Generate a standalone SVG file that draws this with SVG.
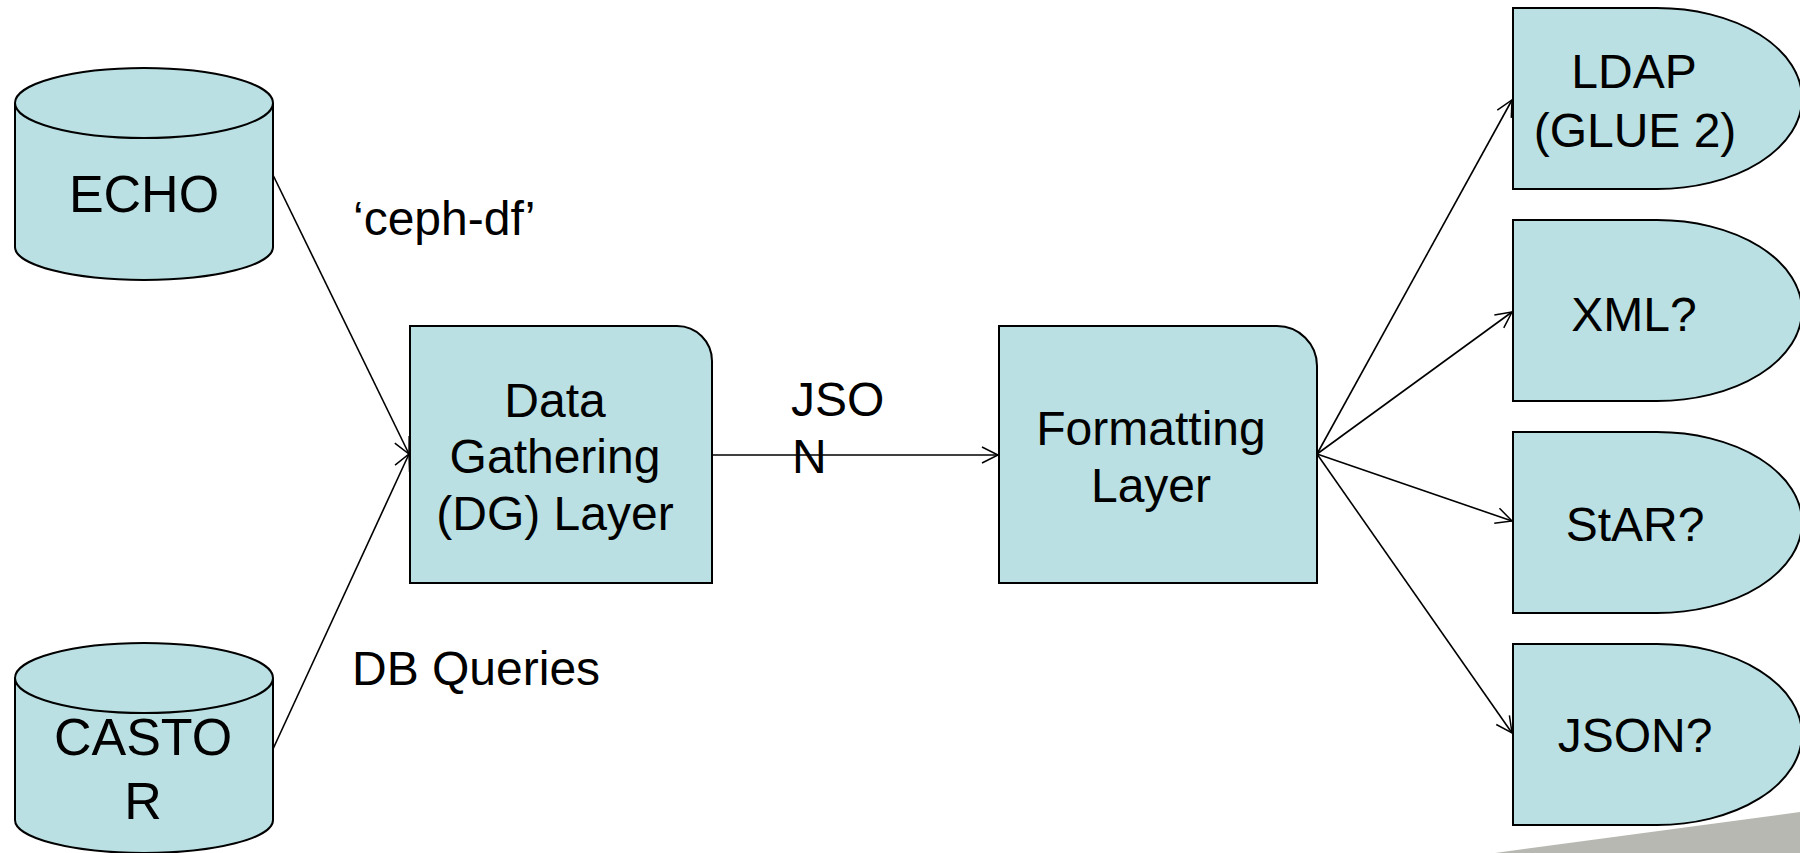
<svg xmlns="http://www.w3.org/2000/svg" width="1800" height="853" viewBox="0 0 1800 853">
<defs>
<marker id="arr" markerUnits="userSpaceOnUse" markerWidth="20" markerHeight="20" viewBox="0 0 20 20" refX="17" refY="10" orient="auto">
<path d="M1,2 L17,10 L1,18" fill="none" stroke="#000" stroke-width="1.5"/>
</marker>
</defs>
<style>
.shape{fill:#bae0e3;stroke:#000;stroke-width:2}
.t{font-family:"Liberation Sans",Arial,sans-serif;font-size:48px;fill:#000}
.c{text-anchor:middle}
.big{font-size:52px}
.ln{fill:none;stroke:#000;stroke-width:1.6}
</style>
<rect width="1800" height="853" fill="#fff"/>
<polygon points="1495,853 1800,812 1800,853" fill="#b8b8b2"/>
<g id="echo">
<path class="shape" d="M15,103 A129,35 0 0 1 273,103 V247 A129,33 0 0 1 15,247 Z"/>
<path class="shape" d="M15,103 A129,35 0 0 0 273,103" fill="none"/>
<text class="t c big" x="144" y="212">ECHO</text>
</g>
<g id="castor">
<path class="shape" d="M15,678 A129,35 0 0 1 273,678 V820 A129,33 0 0 1 15,820 Z"/>
<path class="shape" d="M15,678 A129,35 0 0 0 273,678" fill="none"/>
<text class="t c big" x="143" y="755">CASTO</text>
<text class="t c big" x="143" y="819">R</text>
</g>
<g id="dg">
<path class="shape" d="M410,326 H677 A35,35 0 0 1 712,361 V583 H410 Z"/>
<text class="t c" x="555" y="417">Data</text>
<text class="t c" x="555" y="473">Gathering</text>
<text class="t c" x="555" y="530">(DG) Layer</text>
</g>
<g id="fmt">
<path class="shape" d="M999,326 H1277 A40,40 0 0 1 1317,366 V583 H999 Z"/>
<text class="t c" x="1151" y="445">Formatting</text>
<text class="t c" x="1151" y="502">Layer</text>
</g>
<g id="ldap">
<path class="shape" d="M1513,8 H1657 A145,90.5 0 0 1 1657,189 H1513 Z"/>
<text class="t c" x="1634" y="88">LDAP</text>
<text class="t c" x="1635" y="147">(GLUE 2)</text>
</g>
<g id="xml">
<path class="shape" d="M1513,220 H1657 A145,90.5 0 0 1 1657,401 H1513 Z"/>
<text class="t c" x="1634" y="331">XML?</text>
</g>
<g id="star">
<path class="shape" d="M1513,432 H1657 A145,90.5 0 0 1 1657,613 H1513 Z"/>
<text class="t c" x="1635" y="541">StAR?</text>
</g>
<g id="jsonq">
<path class="shape" d="M1513,644 H1657 A145,90.5 0 0 1 1657,825 H1513 Z"/>
<text class="t c" x="1635" y="752">JSON?</text>
</g>
<g id="labels">
<text class="t" x="353" y="235">‘ceph-df’</text>
<text class="t" x="352" y="685">DB Queries</text>
<text class="t" x="791" y="416">JSO</text>
<text class="t" x="792" y="473">N</text>
</g>
<g id="connectors">
<line class="ln" x1="273" y1="175" x2="409" y2="454" marker-end="url(#arr)"/>
<line class="ln" x1="273" y1="749" x2="409" y2="454" marker-end="url(#arr)"/>
<line class="ln" x1="712" y1="455" x2="998" y2="455" marker-end="url(#arr)"/>
<line class="ln" x1="1317" y1="454" x2="1512" y2="100" marker-end="url(#arr)"/>
<line class="ln" x1="1317" y1="454" x2="1512" y2="312" marker-end="url(#arr)"/>
<line class="ln" x1="1317" y1="454" x2="1512" y2="521" marker-end="url(#arr)"/>
<line class="ln" x1="1317" y1="454" x2="1512" y2="733" marker-end="url(#arr)"/>
</g>
</svg>
